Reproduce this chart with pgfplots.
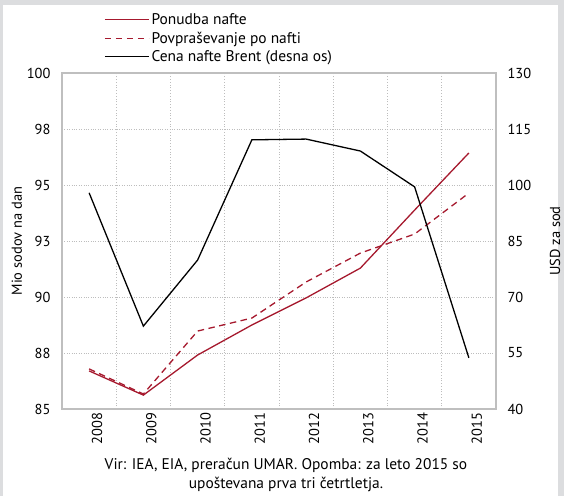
\documentclass[border=0pt]{standalone}
\usepackage{fontspec}
\setmainfont{PT Sans}
\usepackage{pgfplots}
\pgfplotsset{compat=1.18}
\definecolor{oilred}{HTML}{A6192E}
\definecolor{framegray}{HTML}{DCDDDF}
\definecolor{spine}{HTML}{BFBFBF}
\definecolor{gridc}{HTML}{BDBDBD}

\pgfplotsset{
  every axis/.append style={
    scale only axis, width=434bp, height=336bp,
    at={(0,0)}, anchor=south west,
    xmin=-0.5, xmax=7.5,
    font=\fontsize{14.5}{17}\selectfont,
    label style={font=\fontsize{15.5}{18}\selectfont},
    axis line style={spine, line width=1.3pt},
    major tick length=0pt, minor tick length=0pt,
    /pgf/number format/assume math mode=true,
  },
}

\begin{document}
\begin{tikzpicture}
\fill[framegray] (-62bp,-87bp) rectangle (502bp,409bp);
\fill[white] (-59bp,-87bp) rectangle (496bp,404bp);

\begin{axis}[
    ymin=85, ymax=100,
    xtick={0,...,7},
    xticklabels={2008,2009,2010,2011,2012,2013,2014,2015},
    minor xtick={0.5,1.5,...,6.5},
    xminorgrids, ymajorgrids,
    grid style={gridc, dotted, line width=0.8pt},
    minor grid style={gridc, dotted, line width=0.8pt},
    ytick={85,87.5,90,92.5,95,97.5,100},
    yticklabels={85,88,90,93,95,98,100},
    x tick label style={rotate=90, anchor=east, yshift=-8bp},
    y tick label style={xshift=-8bp},
    ylabel={Mio sodov na dan},
    every axis y label/.style={at={(axis description cs:-0.104,0.5)}, rotate=90, anchor=center},
    legend style={at={(axis description cs:0.09,1.19)}, anchor=north west,
      draw=none, fill=none, row sep=2bp,
      font=\fontsize{15.5}{18}\selectfont},
    legend cell align=left,
    legend image code/.code={\path[draw, line width=1.3pt, #1] (0bp,0bp) -- (44bp,0bp);},
]
\addplot[oilred, line width=1.3pt] coordinates {
  (0,86.70) (1,85.62) (2,87.41) (3,88.75) (4,89.96) (5,91.29) (6,93.88) (7,96.43)
};
\addlegendentry{Ponudba nafte}
\addplot[oilred, line width=1.3pt, dash pattern=on 6.5bp off 4.5bp] coordinates {
  (0,86.79) (1,85.67) (2,88.48) (3,89.06) (4,90.67) (5,91.96) (6,92.81) (7,94.64)
};
\addlegendentry{Povpraševanje po nafti}
\addlegendimage{black, line width=1.3pt}
\addlegendentry{Cena nafte Brent (desna os)}
\end{axis}

\begin{axis}[
    ymin=40, ymax=130,
    ytick={40,55,70,85,100,115,130},
    axis y line*=right, axis x line=none,
    y tick label style={xshift=8bp},
    ylabel={USD za sod},
    every axis y label/.style={at={(axis description cs:1.136,0.5)}, rotate=90, anchor=center},
]
\addplot[black, line width=1.3pt] coordinates {
  (0,97.9) (1,62.2) (2,79.9) (3,112.1) (4,112.3) (5,109.1) (6,99.5) (7,53.7)
};
\end{axis}

\node[align=center, font=\fontsize{15.5}{19}\selectfont] at (224bp,-66bp)
  {Vir: IEA, EIA, preračun UMAR. Opomba: za leto 2015 so\\upoštevana prva tri četrtletja.};
\end{tikzpicture}
\end{document}
